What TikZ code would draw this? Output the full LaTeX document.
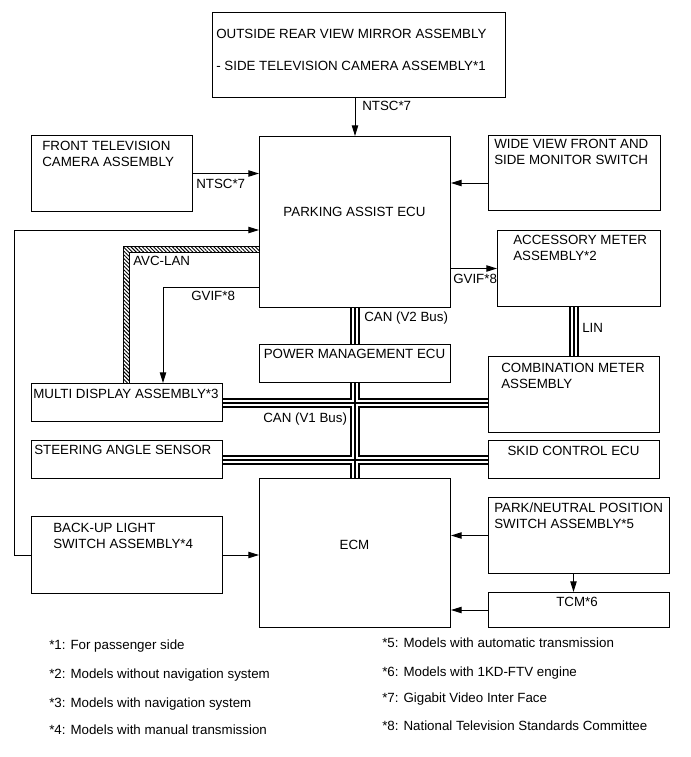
\documentclass[tikz,border=0pt]{standalone}
\usepackage{fontspec}
\setmainfont{Liberation Sans}
\usetikzlibrary{arrows.meta,calc,backgrounds,patterns.meta}
\newcommand{\pxu}{0.75pt}
\tikzset{
  comp/.style 2 args={draw,line width=0.75pt,anchor=north west,inner sep=0pt,
    minimum width=#1*\pxu,minimum height=#2*\pxu},
  wire/.style={-{Triangle[length=8pt,width=4.8pt]},line width=0.75pt},
  tag/.style={inner sep=0pt,anchor=base west,align=left,
    font=\fontsize{10pt}{12pt}\selectfont},
  ctag/.style={tag,anchor=base},
  mtag/.style={tag,anchor=north west},
  avcband/.style={line width=0.75pt,
    pattern={Lines[angle=-45,distance=2pt,line width=0.7pt]}}
}

\begin{document}
\begin{tikzpicture}[x=0.75pt,y=-0.75pt]
\useasboundingbox (0,0) rectangle (690,757);
\node[comp={293}{85}] (mir) at (212,12) {};
\node[comp={161}{76}] (ftv) at (31,135) {};
\node[comp={191}{171}] (pa) at (259,136) {};
\node[comp={172}{75}] (wvs) at (488,135) {};
\node[comp={163}{76}] (acc) at (497,230) {};
\node[comp={191}{38}] (pm) at (259,344) {};
\node[comp={171}{76}] (cmb) at (488,356) {};
\node[comp={191}{38}] (mda) at (31,383) {};
\node[comp={191}{38}] (sas) at (31,440) {};
\node[comp={171}{38}] (skid) at (488,440) {};
\node[comp={191}{149}] (ecm) at (259,478) {};
\node[comp={191}{77}] (bul) at (31,516) {};
\node[comp={181}{76}] (pns) at (488,497) {};
\node[comp={181}{35}] (tcm) at (488,592) {};

\node[tag] (mir-a) at (216,38) {OUTSIDE REAR VIEW MIRROR ASSEMBLY};
\node[tag] (mir-b) at (216,70) {- SIDE TELEVISION CAMERA ASSEMBLY*1};
\node[mtag] (ftv-t) at (42,141) {FRONT TELEVISION\\CAMERA ASSEMBLY};
\node[ctag] (pa-t) at (354.5,216) {PARKING ASSIST ECU};
\node[mtag] (wvs-t) at (494,138.5) {WIDE VIEW FRONT AND\\SIDE MONITOR SWITCH};
\node[mtag] (acc-t) at (513,234.5) {ACCESSORY METER\\ASSEMBLY*2};
\node[ctag] (pm-t) at (354.5,358) {POWER MANAGEMENT ECU};
\node[mtag] (cmb-t) at (501,362.5) {COMBINATION METER\\ASSEMBLY};
\node[tag] (mda-t) at (33,398) {MULTI DISPLAY ASSEMBLY*3};
\node[tag] (sas-t) at (34,454) {STEERING ANGLE SENSOR};
\node[ctag] (skid-t) at (573.5,455) {SKID CONTROL ECU};
\node[ctag] (ecm-t) at (354.5,549) {ECM};
\node[mtag] (bul-t) at (53,522.5) {BACK-UP LIGHT\\SWITCH ASSEMBLY*4};
\node[mtag] (pns-t) at (494,502.5) {PARK/NEUTRAL POSITION\\SWITCH ASSEMBLY*5};
\node[ctag] (tcm-t) at (577,606) {TCM*6};

\node[tag] (ntsc-a) at (362,110) {NTSC*7};
\node[tag] (ntsc-b) at (196,188) {NTSC*7};
\node[tag] (gvif-a) at (453,283) {GVIF*8};
\node[tag] (gvif-b) at (191,300) {GVIF*8};
\node[tag] (avc-t) at (133,265) {AVC-LAN};
\node[tag] (can-b) at (364,321) {CAN (V2 Bus)};
\node[tag] (can-a) at (263,422) {CAN (V1 Bus)};
\node[tag] (lin-t) at (582,332) {LIN};

\coordinate (wvs-in) at ($(wvs.west)+(0,10)$);
\coordinate (gv) at (163,287);
\coordinate (bk) at (14,230);
\coordinate (avc) at (126,249);
\coordinate (pt) at ($(pns.south)+(-5.5,0)$);
\draw[wire] (mir.south -| pa.north) -- (pa.north);
\draw[wire] (ftv.east) -- (ftv.east -| pa.west);
\draw[wire] (wvs-in) -- (wvs-in -| pa.east);
\draw[wire] (pa.east |- acc.west) -- (acc.west);
\draw[wire] (pa.west |- gv) -| (gv |- mda.north);
\draw[wire] (bul.west) -| (bk) -- (bk -| pa.west);
\draw[wire] (bul.east) -- (bul.east -| ecm.west);
\draw[wire] (pns.west) -- (pns.west -| ecm.east);
\draw[wire] (pt) -- (pt |- tcm.north);
\draw[wire] (tcm.west) -- (tcm.west -| ecm.east);
\draw[avcband] ($(pa.west |- avc)+(0,-3)$) -| ($(avc |- mda.north)+(-3,0)$)
  -- ($(avc |- mda.north)+(3,0)$) |- ($(pa.west |- avc)+(0,3)$) -- cycle;

\begin{scope}[on background layer]
\foreach \lw/\col in {7.5pt/black,4.5pt/white,1.5pt/black}
  \draw[line width=\lw,\col] (pa.south) -- (pm.north) (pm.south) -- (ecm.north)
    (mda.east) -- (mda.east -| cmb.west) (sas.east) -- (skid.west)
    (cmb.north |- acc.south) -- (cmb.north);
\end{scope}

\foreach \i/\y/\t in {1/649/For passenger side,2/678/Models without navigation system,
  3/707/Models with navigation system,4/734/Models with manual transmission}
  \node[tag] (fn\i) at (49,\y) {*\i: \t};
\foreach \i/\y/\t in {5/647/Models with automatic transmission,6/676/Models with 1KD-FTV engine,
  7/702/Gigabit Video Inter Face,8/730/National Television Standards Committee}
  \node[tag] (fn\i) at (382,\y) {*\i: \t};
\end{tikzpicture}
\end{document}
